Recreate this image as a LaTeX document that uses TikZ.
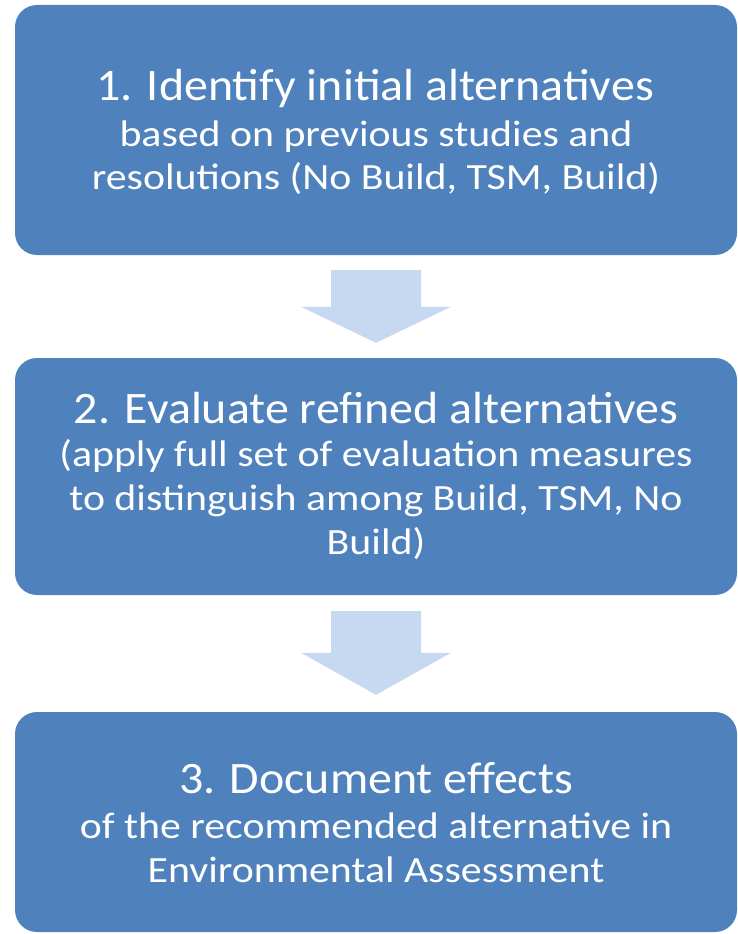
\documentclass[tikz,border=0pt]{standalone}
\usepackage{fontspec}
\setmainfont{Carlito}
\newfontfamily\titlefont[FakeStretch=1.065]{Carlito}
\newfontfamily\subfont[FakeStretch=1.13]{Carlito}
\usetikzlibrary{calc}
\definecolor{boxblue}{HTML}{4F81BD}
\definecolor{arrowblue}{HTML}{C6D9F1}
\tikzset{
  stepbox/.style={rectangle, rounded corners=22pt, fill=boxblue, draw=none, minimum width=722pt, inner sep=0pt},
  titletext/.style={text=white, anchor=base, inner sep=0pt, font=\titlefont\fontsize{45}{48}\selectfont},
  subtext/.style={text=white, anchor=base, inner sep=0pt, font=\subfont\fontsize{37}{43}\selectfont},
  blockarrow/.style={fill=arrowblue, draw=none}
}
\begin{document}
\begin{tikzpicture}[x=1pt,y=-1pt]
\useasboundingbox (0,0) rectangle (738,934);
% boxes
\node[stepbox, minimum height=250pt] (b1) at (376,130) {};
\node[stepbox, minimum height=237pt] (b2) at (376,476.5) {};
\node[stepbox, minimum height=220pt] (b3) at (376,822) {};
% arrows
\fill[blockarrow] ($(b1.south)+(-45,15)$) -- ($(b1.south)+(45,15)$) -- ($(b2.north)+(45,-51)$) -- ($(b2.north)+(75,-51)$) -- ($(b2.north)+(0,-15)$) -- ($(b2.north)+(-75,-51)$) -- ($(b2.north)+(-45,-51)$) -- cycle;
\fill[blockarrow] ($(b2.south)+(-45,16)$) -- ($(b2.south)+(45,16)$) -- ($(b3.north)+(45,-59)$) -- ($(b3.north)+(75,-59)$) -- ($(b3.north)+(0,-17)$) -- ($(b3.north)+(-75,-59)$) -- ($(b3.north)+(-45,-59)$) -- cycle;
% texts box 1
\node[titletext] (t1) at (375,100) {1. Identify initial alternatives};
\node[subtext] (s1a) at (376,146) {based on previous studies and};
\node[subtext] (s1b) at (376,189) {resolutions (No Build, TSM, Build)};
% texts box 2
\node[titletext] (t2) at (376,423) {2. Evaluate refined alternatives};
\node[subtext] (s2a) at (376,466) {(apply full set of evaluation measures};
\node[subtext] (s2b) at (376,510) {to distinguish among Build, TSM, No};
\node[subtext] (s2c) at (376,554) {Build)};
% texts box 3
\node[titletext] (t3) at (376,793) {3. Document effects};
\node[subtext] (s3a) at (376,838) {of the recommended alternative in};
\node[subtext] (s3b) at (376,882) {Environmental Assessment};
\end{tikzpicture}
\end{document}
